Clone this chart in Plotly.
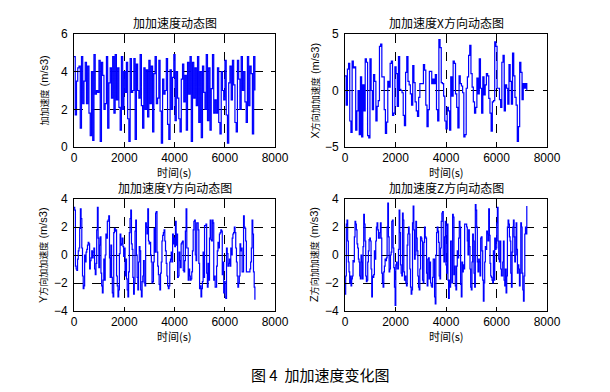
import plotly.graph_objects as go

# ---------------- data ----------------
DURATION_S = 7200

jerk_total = [4.8,1.7,3.5,4.2,4.3,1.0,4.8,2.3,3.5,4.5,2.3,4.3,1.8,0.6,4.0,0.35,4.9,2.8,3.0,2.9,
              4.6,0.3,4.5,3.8,2.0,2.3,4.8,1.0,3.4,4.2,2.6,4.8,1.8,4.9,2.5,4.2,2.1,0.9,4.8,2.0,
              4.0,2.9,4.5,1.5,0.3,4.7,2.9,3.0,4.7,0.4,4.4,3.0,2.6,4.9,2.2,1.0,4.2,2.0,4.1,1.6,
              4.6,2.3,4.3,0.8,3.9,4.8,2.3,2.6,4.6,1.9,0.2,3.6,2.8,3.0,4.7,1.2,0.4,4.1,2.0,3.7,
              4.9,1.4,4.0,2.6,1.5,0.8,3.6,4.4,2.4,3.8,0.9,4.5,2.8,4.8,0.3,4.5,2.6,4.2,2.2,4.8,
              1.3,4.0,0.5,4.3,2.9,2.0,4.9,1.4,4.2,0.9,3.1,4.9,1.8,2.5,1.8,4.2,1.3,0.7,4.0,3.0,
              2.5,4.6,1.7,0.2,3.4,4.3,2.5,4.6,3.3,1.3,0.8,4.6,3.6,2.0,4.8,3.0,4.0,2.4,1.3,4.8,
              2.2,4.3,3.9,0.7,4.8,3.0]

jerk_x = [1.3,-1.3,1.9,2.4,-2.7,-3.7,2.6,2.0,2.1,-3.5,-1.8,0.0,-3.9,1.2,-4.1,0.5,-1.8,2.8,2.5,-4.0,
          -4.2,2.8,0.0,-1.7,1.4,0.8,-2.7,-1.4,-0.9,3.9,4.1,1.2,1.2,-1.7,-3.8,-2.8,0.8,0.3,2.4,2.6,
          -2.2,-2.0,2.1,1.5,-1.4,3.0,0.1,0.0,-0.2,-2.2,-3.1,1.6,3.0,0.8,0.5,-0.3,-1.3,2.2,0.7,-1.0,
          -1.8,-2.3,-0.6,0.6,0.6,0.6,2.3,1.8,-1.3,-3.2,-1.7,1.7,1.7,0.6,1.0,0.6,
          1.4,-1.7,-2.7,4.5,3.8,0.7,0.6,-0.5,-2.7,-3.4,-1.5,-1.8,-3.5,1.2,-0.5,2.6,2.4,-0.3,-1.5,-3.3,
          1.3,0.6,0.4,-0.2,-4.1,-3.9,0.2,1.2,3.1,4.0,1.5,0.3,-1.0,-2.0,-1.5,1.1,-0.3,2.8,0.2,-2.0,
          1.2,-0.4,0.5,1.5,1.3,-0.7,-2.0,-3.6,-1.0,-0.9,4.3,3.9,0.2,0.2,-0.8,-1.5,2.5,3.1,-1.8,0.5,
          0.2,-1.2,2.3,0.8,-1.2,3.3,1.3,-0.6,-1.3,-4.5,-3.2,2.5,1.6,-0.8,0.6,0.2,0.6,0.0]

jerk_y = [3.4,3.2,-0.8,-1.0,-1.1,-0.3,0.3,0.5,1.9,3.3,2.6,0.5,-1.5,-2.4,-2.2,0.0,-0.5,0.2,0.4,0.7,
          0.9,0.8,-1.0,-0.4,-0.2,0.3,-0.2,0.2,0.5,-1.0,-1.4,-0.6,1.8,3.4,1.2,-0.9,0.7,1.3,-1.3,-2.2,
          -2.7,-1.8,-0.3,-1.8,0.0,1.5,1.2,2.4,2.5,2.8,-0.2,-1.6,0.7,-1.6,-2.7,-3.0,1.6,1.9,1.7,1.8,
          -1.5,-2.2,-3.0,-2.5,0.1,1.5,0.7,0.8,1.2,0.6,-0.1,0.5,-1.5,-0.3,-1.7,-2.5,-3.0,-1.2,1.6,2.6,
          3.2,0.8,0.4,-1.6,-2.8,-2.0,1.7,2.5,0.0,-1.6,-2.5,-0.5,0.6,0.3,-2.5,-3.0,-1.9,-1.5,-0.4,-2.0,
          -2.2,2.3,2.0,1.5,3.3,1.0,0.8,0.9,0.0,-0.5,-2.0,-1.9,-0.5,1.9,0.2,3.0,3.1,0.2,-0.8,-1.4,
          -2.1,
          -2.5,-1.3,-0.5,1.0,1.4,1.6,1.8,1.0,0.3,-0.6,-1.5,-2.2,-2.4,-2.2,-0.5,-0.3,0.2,-0.5,1.5,0.8,
          1.2,0.6,2.4,0.7,1.5,-1.6,-1.5,0.2,-0.4,-0.9,0.8,0.9,1.0,-1.1,-1.2,-0.4,1.7,3.3,0.5,0.5,
          -1.8,-1.0,-1.5,-1.8,-1.7,-1.2,0.3,1.8,2.4,2.5,0.0,-0.4,2.3,2.3,1.8,-0.6,-2.4,-2.2,-3.0,-2.4,
          -1.9,0.2,-1.6,2.1,2.1,2.2,-1.3,-2.3,-0.6,-1.8,1.2,2.5,1.1,1.0,2.5,2.3,-1.8,-1.5,-2.3,-2.3,
          -0.8,0.3,0.9,0.5,1.5,1.6,1.8,1.7,-1.4,-0.5,-2.7,-1.9,-3.0,-3.1,0.5,0.1,-0.8,-0.6,-0.3,-0.8,
          0.5,0.0,1.2,1.5,1.6,2.0,1.6,0.5,-0.5,-1.5,-2.3,-2.0,-1.5,0.8,0.3,0.5,-1.2,-1.2,2.8,2.0,
          1.9,1.0,-1.2,-1.2,-1.2,-1.2,-1.2,-1.0,-0.5,0.5,2.5,1.5,-1.2,-2.3,-3.2]

jerk_z = [-2.8,-1.5,2.2,2.5,1.0,-0.5,-1.2,-2.0,-1.5,-2.2,-1.7,-1.5,-0.4,-0.5,1.3,2.4,2.2,1.8,0.8,0.5,
          -0.3,-0.5,-1.5,-1.7,0.0,-0.5,-1.7,0.6,2.9,2.2,1.0,-1.5,-1.9,-1.8,-0.5,0.3,1.1,1.2,1.0,-1.0,
          -3.0,-1.5,-1.6,-1.4,0.3,-0.3,1.0,2.0,2.3,1.8,1.2,1.2,1.6,2.3,1.2,-1.3,-2.0,-2.3,-1.2,-0.8,
          -0.3,-0.4,-0.2,2.0,3.7,1.3,-1.2,-1.0,0.0,0.2,2.4,2.5,0.5,-0.9,-2.3,-3.6,-0.7,-0.5,-1.0,-1.0,
          0.4,3.2,1.6,-0.7,-1.3,-1.5,3.0,2.5,-1.2,-1.8,-1.5,-2.0,-2.2,0.7,1.5,2.0,1.5,-1.0,-2.3,-2.8,
          -2.5,2.3,3.5,1.8,-0.3,0.0,2.4,1.2,0.3,-1.5,-2.3,-2.5,-1.0,1.3,1.2,1.0,-1.8,-2.0,0.9,2.0,
          1.3,1.2,-1.3,-2.2,-0.3,-0.2,-1.7,-0.5,-2.0,-2.2,-2.3,-1.6,-0.3,-0.3,-3.0,-3.5,0.0,1.6,2.0,
          1.7,0.9,-1.5,-1.7,0.5,2.4,3.0,3.1,0.0,-0.5,1.3,2.4,-0.7,-1.3,2.2,-1.8,-3.1,-1.8,-2.3,1.0,
          1.0,-2.0,2.9,2.7,-1.4,-0.8,-2.2,-2.5,-0.8,0.3,-0.2,1.2,2.4,2.0,-2.1,-3.0,-0.5,-1.2,-0.7,-1.0,
          2.2,2.2,2.2,2.0,1.0,0.0,1.8,0.6,-1.0,-2.3,-2.5,-0.5,1.5,1.0,-1.3,-2.3,3.6,3.2,2.0,-0.5,
          -1.2,-0.3,-0.5,-1.5,1.2,1.3,0.3,-1.8,-3.3,-2.0,-0.5,0.6,0.4,1.7,1.5,1.0,3.3,1.4,-0.6,-1.5,
          -1.6,-1.8,-2.0,0.3,-1.8,1.2,0.4,0.5,2.3,3.4,1.0,-0.3,-0.5,1.0,-1.0,-1.5,-1.5,-0.5,1.0,-1.8,
          -2.2,-1.0,-2.7,-1.5,2.0,2.5,2.2,1.3,1.0,-1.3,-2.3,0.2,2.0,2.5,1.3,-0.5,0.0,2.3,0.4,-1.3,
          -0.7,-1.0,-2.2,-1.3,2.3,2.0,-1.3,-2.5,-3.3,-1.5,1.5,2.0,1.5,3.5]

titles = ["加加速度动态图", "加加速度X方向动态图", "加加速度Y方向动态图", "加加速度Z方向动态图"]
y_prefix = ["", "X", "Y", "Z"]
y_cn = ["加加速度", "方向加加速度", "方向加加速度", "方向加加速度"]
y_unit = "(m/s3)"
x_title = "时间(s)"
x_ticks = [0, 2000, 4000, 6000, 8000]
y_ticks = [[0, 2, 4, 6], [-5, 0, 5], [-4, -2, 0, 2, 4], [-4, -2, 0, 2, 4]]
caption = "图 4  加加速度变化图"

series = [jerk_total, jerk_x, jerk_y, jerk_z]

# ---------------- layout (pixel geometry of the 610x392 page) ----------------
W, H = 610, 392
boxes = [(74, 275, 34, 147), (345, 547, 34, 147), (74, 275, 199, 311), (345, 547, 199, 311)]

fig = go.Figure()
annotations = []
TICK_FONT = dict(family="Liberation Sans, Arial", size=12, color="black")
CJK = "Noto Sans CJK SC"

for i, vals in enumerate(series):
    n = len(vals)
    t = [k * DURATION_S / (n - 1) for k in range(n)]
    sfx = "" if i == 0 else str(i + 1)
    fig.add_trace(go.Scatter(x=t, y=vals, mode="lines", line=dict(color="#0000FF", width=1.2, shape="hv"),
                             xaxis="x" + sfx, yaxis="y" + sfx, showlegend=False, hoverinfo="skip"))
    x0, x1, y0, y1 = boxes[i]
    common = dict(showline=True, linecolor="black", linewidth=1, mirror="ticks", ticks="inside",
                  ticklen=4, tickcolor="black", showgrid=True, gridcolor="black", griddash="dash",
                  gridwidth=1, zeroline=False, tickfont=TICK_FONT, automargin=False)
    fig.layout["xaxis" + sfx] = dict(domain=[x0 / W, x1 / W], range=[0, 8000], tickvals=x_ticks,
                                     anchor="y" + sfx, ticklabelstandoff=0, **common)
    yt = y_ticks[i]
    fig.layout["yaxis" + sfx] = dict(domain=[1 - y1 / H, 1 - y0 / H], range=[yt[0], yt[-1]], tickvals=yt,
                                     anchor="x" + sfx, ticklabelstandoff=3, **common)
    cx = (x0 + x1) / 2 / W
    # subplot title
    annotations.append(dict(text=titles[i], x=cx, y=1 - (y0 - 11.5) / H, xref="paper", yref="paper",
                            xanchor="center", yanchor="middle", showarrow=False,
                            font=dict(family=CJK, size=12, color="black")))
    # x title
    annotations.append(dict(text=x_title, x=cx, y=1 - (y1 + 24.5) / H, xref="paper", yref="paper",
                            xanchor="center", yanchor="middle", showarrow=False,
                            font=dict(family=CJK, size=11, color="black")))
    # y title
    ytxt = (f"<span style='font-size:11px'>{y_prefix[i]}</span>" if y_prefix[i] else "") + \
           f"<span style='font-size:9px'>{y_cn[i]}</span> {y_unit}"
    annotations.append(dict(text=ytxt, x=(x0 - 31) / W, y=1 - (y0 + y1) / 2 / H, xref="paper", yref="paper",
                            xanchor="center", yanchor="middle", showarrow=False, textangle=-90,
                            font=dict(family="Liberation Sans, " + CJK, size=11, color="black")))

annotations.append(dict(text=caption, x=320 / W, y=1 - 374 / H, xref="paper", yref="paper",
                        xanchor="center", yanchor="middle", showarrow=False,
                        font=dict(family=CJK, size=15, color="black")))

fig.update_layout(width=W, height=H, margin=dict(l=0, r=0, t=0, b=0),
                  paper_bgcolor="white", plot_bgcolor="white", annotations=annotations)

fig.write_html("out.html", config={"displayModeBar": False},
               post_script="document.body.style.margin='0';document.body.style.overflow='hidden';")
